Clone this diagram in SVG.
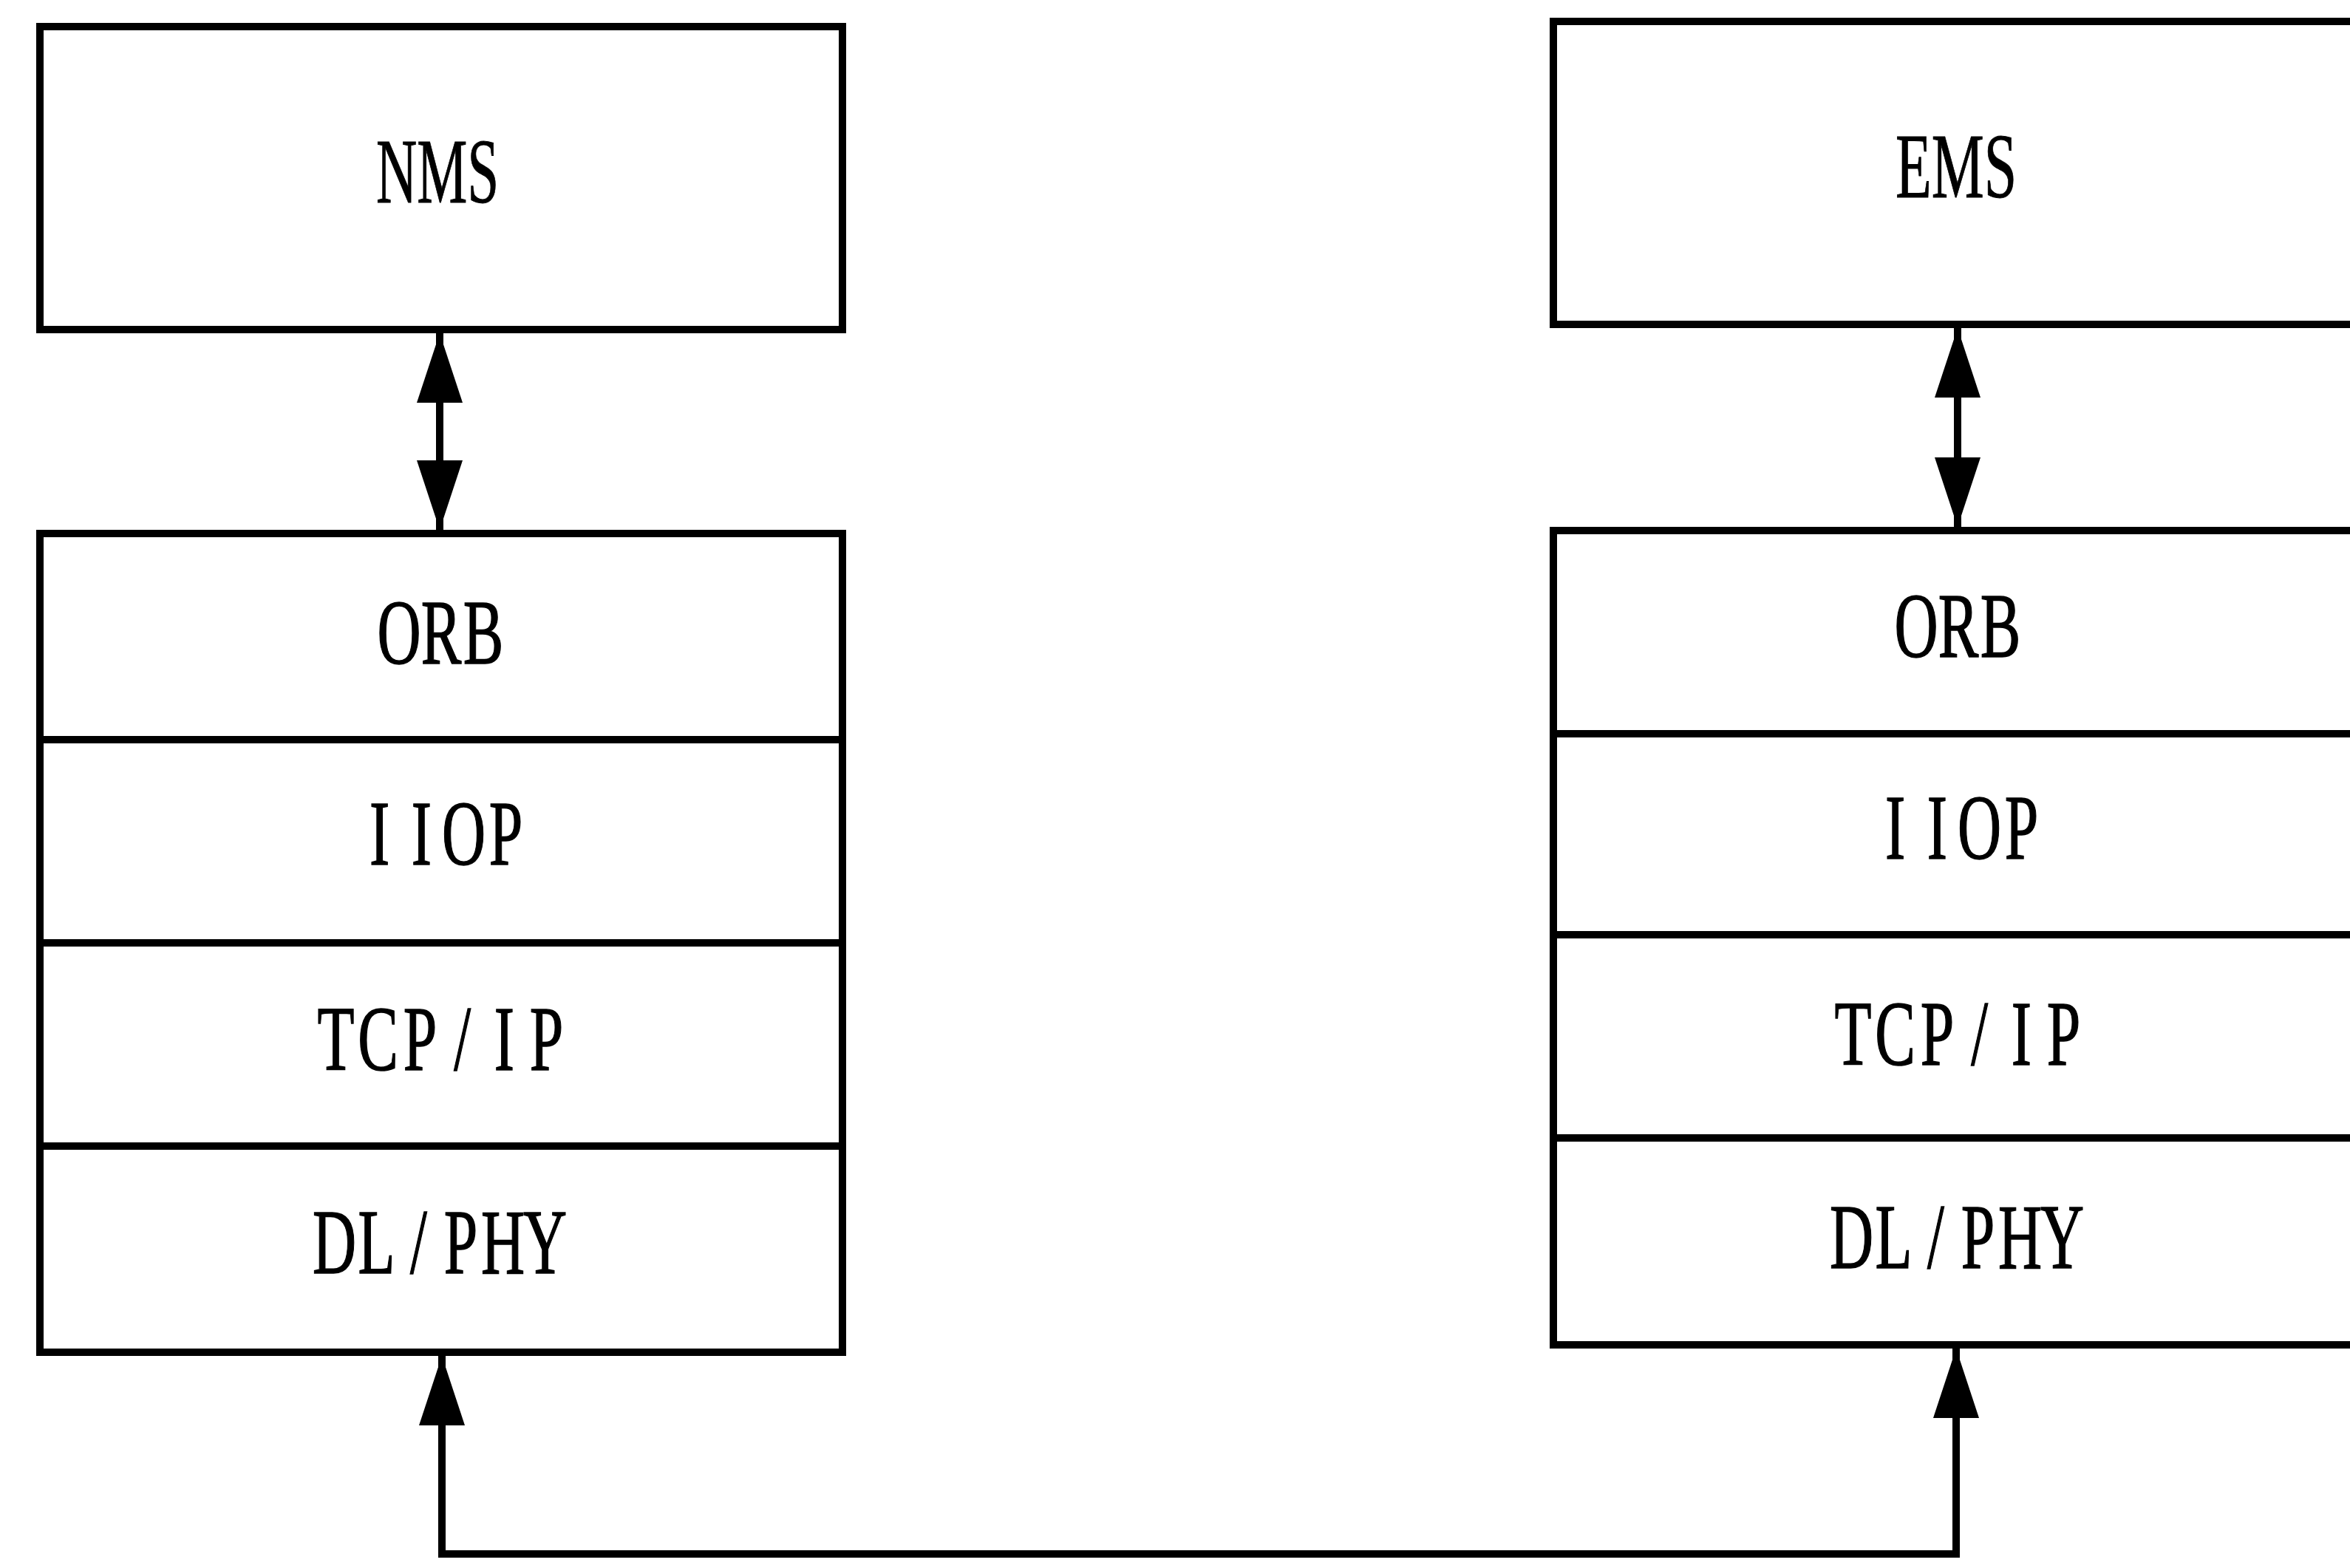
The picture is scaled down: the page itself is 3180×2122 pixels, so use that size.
<svg xmlns="http://www.w3.org/2000/svg" width="3180" height="2122" viewBox="0 0 3180 2122">
<style>
.box{fill:#fff;stroke:#000;stroke-width:10}
.sep{stroke:#000;stroke-width:10}
.lbl{font-family:"Liberation Serif","Times New Roman",serif;font-size:124px;fill:#000;stroke:#000;stroke-width:1.5;text-anchor:middle}
.title{font-family:"Liberation Serif","Times New Roman",serif;font-size:124px;fill:#000;stroke:#000;stroke-width:1}
.conn{fill:none;stroke:#000;stroke-width:10}
</style>
<defs>
<marker id="ah" viewBox="0 0 94 62" refX="94" refY="31" markerWidth="94" markerHeight="62" markerUnits="userSpaceOnUse" orient="auto-start-reverse">
<path d="M0,0 L94,31 L0,62 z" fill="#000"/>
</marker>
</defs>
<rect width="3180" height="2122" fill="#fff"/>

<g id="nms">
<rect class="box" x="54" y="36" width="1086" height="410"/>
<text class="title" x="509" y="274" textLength="166" lengthAdjust="spacingAndGlyphs">NMS</text>
</g>

<g id="ems">
<rect class="box" x="2102" y="29" width="1100" height="410"/>
<text class="title" x="2565" y="267" textLength="164" lengthAdjust="spacingAndGlyphs">EMS</text>
</g>

<g id="left-stack">
<rect class="box" x="54" y="722" width="1086" height="1108"/>
<line class="sep" x1="54" y1="1001" x2="1140" y2="1001"/>
<line class="sep" x1="54" y1="1276" x2="1140" y2="1276"/>
<line class="sep" x1="54" y1="1551" x2="1140" y2="1551"/>
<g transform="translate(597,898) scale(0.66,1)"><text class="lbl" x="-86.4 0 86.4" y="0">ORB</text></g>
<g transform="translate(599,1170) scale(0.66,1)"><text class="lbl" x="-129.5 -43.2 43.2 129.5" y="0">IIOP</text></g>
<g transform="translate(597,1448) scale(0.66,1)"><text class="lbl" x="-215.9 -129.5 -43.2 43.2 129.5 215.9" y="0">TCP/IP</text></g>
<g transform="translate(595,1723) scale(0.66,1)"><text class="lbl" x="-215.9 -129.5 -43.2 43.2 129.5 215.9" y="0">DL/PHY</text></g>
</g>

<g id="right-stack">
<rect class="box" x="2102" y="718" width="1100" height="1102"/>
<line class="sep" x1="2102" y1="993" x2="3190" y2="993"/>
<line class="sep" x1="2102" y1="1265" x2="3190" y2="1265"/>
<line class="sep" x1="2102" y1="1540" x2="3190" y2="1540"/>
<g transform="translate(2650,889) scale(0.66,1)"><text class="lbl" x="-86.4 0 86.4" y="0">ORB</text></g>
<g transform="translate(2650,1162) scale(0.66,1)"><text class="lbl" x="-129.5 -43.2 43.2 129.5" y="0">IIOP</text></g>
<g transform="translate(2650,1441) scale(0.66,1)"><text class="lbl" x="-215.9 -129.5 -43.2 43.2 129.5 215.9" y="0">TCP/IP</text></g>
<g transform="translate(2648,1716) scale(0.66,1)"><text class="lbl" x="-215.9 -129.5 -43.2 43.2 129.5 215.9" y="0">DL/PHY</text></g>
</g>

<g id="connectors">
<line class="conn" x1="595" y1="451" x2="595" y2="717" marker-start="url(#ah)" marker-end="url(#ah)"/>
<line class="conn" x1="2649" y1="444" x2="2649" y2="713" marker-start="url(#ah)" marker-end="url(#ah)"/>
<polyline class="conn" points="598,1835 598,2103 2647,2103 2647,1825" marker-start="url(#ah)" marker-end="url(#ah)"/>
</g>
</svg>
